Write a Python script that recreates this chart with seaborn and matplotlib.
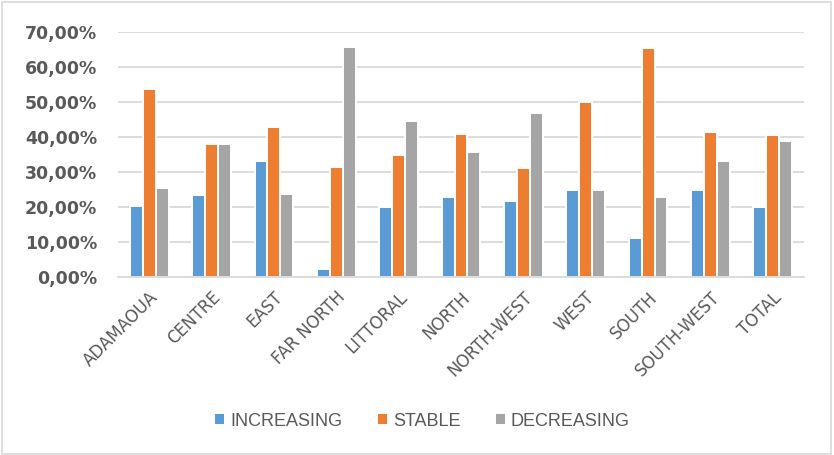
import matplotlib
matplotlib.use("Agg")
import matplotlib.pyplot as plt
from matplotlib.patches import Rectangle
from matplotlib.ticker import FuncFormatter
import seaborn as sns
import pandas as pd

regions = ["ADAMAOUA", "CENTRE", "EAST", "FAR NORTH", "LITTORAL", "NORTH",
           "NORTH-WEST", "WEST", "SOUTH", "SOUTH-WEST", "TOTAL"]
increasing = [20.3, 23.5, 33.1, 2.4, 20.0, 22.9, 21.7, 24.9, 11.3, 24.9, 20.0]
stable = [53.8, 38.0, 42.7, 31.4, 34.9, 40.9, 31.1, 50.0, 65.3, 41.5, 40.5]
decreasing = [25.5, 38.0, 23.7, 65.7, 44.5, 35.8, 46.7, 24.9, 22.9, 33.1, 38.9]
series_names = ["INCREASING", "STABLE", "DECREASING"]
colors = ["#5B9BD5", "#ED7D31", "#A5A5A5"]

rows = []
for name, vals in zip(series_names, [increasing, stable, decreasing]):
    for r, v in zip(regions, vals):
        rows.append({"region": r, "trend": name, "share": v / 100})
df = pd.DataFrame(rows)

sns.set_theme(style="white")
plt.rcParams["font.family"] = ["DejaVu Sans"]
text_color = "#595959"

fig = plt.figure(figsize=(8.34, 4.55), dpi=100)
ax = fig.add_axes([118 / 834, 1 - 277.3 / 455, (804 - 118) / 834, (277.3 - 31.7) / 455])

sns.barplot(data=df, x="region", y="share", hue="trend", order=regions,
            hue_order=series_names, palette=colors, width=0.62,
            edgecolor="white", linewidth=1.4, saturation=1, ax=ax, errorbar=None)

ax.set_ylim(0, 0.70)
ax.set_xlim(-0.5, len(regions) - 0.5)
ax.set_yticks([i / 10 for i in range(8)])
ax.yaxis.set_major_formatter(FuncFormatter(lambda v, _: f"{v * 100:.2f}%".replace(".", ",")))
ax.grid(axis="y", color="#D9D9D9", linewidth=1.3)
ax.set_axisbelow(True)
for s in ["top", "right", "left"]:
    ax.spines[s].set_visible(False)
ax.spines["bottom"].set_color("#D9D9D9")
ax.spines["bottom"].set_linewidth(1.3)
ax.set_xlabel("")
ax.set_ylabel("")
ax.tick_params(axis="y", length=0, pad=15, labelsize=12.5, labelcolor=text_color)
ax.tick_params(axis="x", length=0, pad=8, labelsize=12, labelcolor=text_color)
for lbl in ax.get_yticklabels():
    lbl.set_fontweight("bold")
plt.setp(ax.get_xticklabels(), rotation=45, ha="right", rotation_mode="anchor")

leg = ax.legend(loc="center", bbox_to_anchor=(422 / 834, 1 - 421 / 455),
                bbox_transform=fig.transFigure, ncol=3, frameon=False,
                labelcolor=text_color,
                prop={"family": ["Liberation Sans"], "size": 13},
                handlelength=0.6, handleheight=0.6, handletextpad=0.3,
                columnspacing=1.9)

fig.patches.append(Rectangle((0.002, 0.003), 0.994, 0.993, transform=fig.transFigure,
                             fill=False, edgecolor="#D9D9D9", linewidth=1.2))

fig.savefig("out.png", dpi=100)
